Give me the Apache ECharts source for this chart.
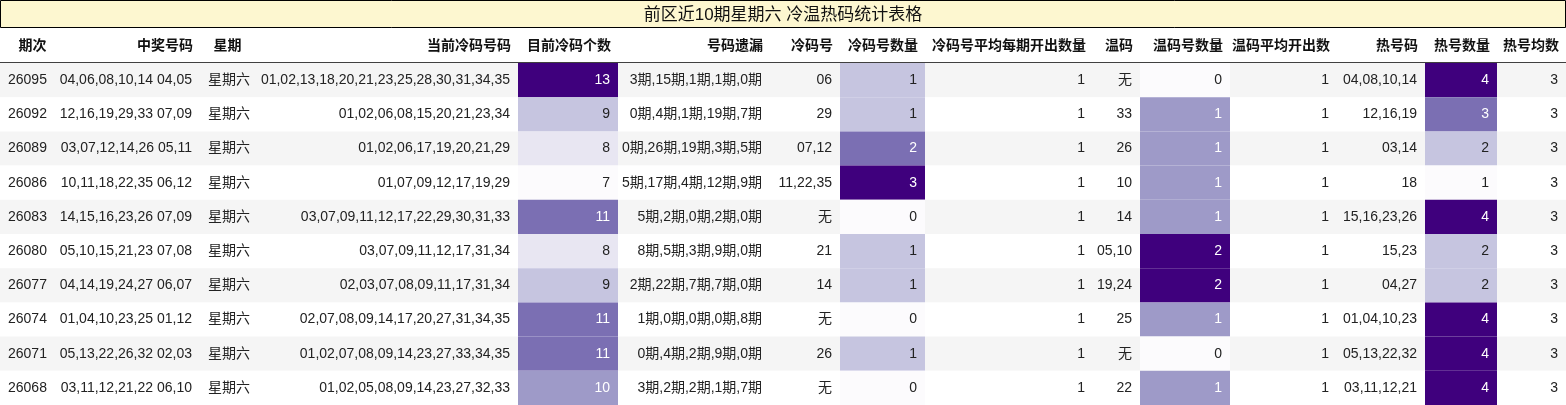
<!DOCTYPE html>
<html>
<head>
<meta charset="utf-8">
<script src="https://cdn.jsdelivr.net/npm/echarts@6/dist/echarts.min.js"></script>
<style>html,body{margin:0;padding:0;background:#fff}#main{width:1566px;height:405px}</style>
</head>
<body>
<div id="main"></div>
<script>
var title = '前区近10期星期六 冷温热码统计表格';
var headers = ['期次', '中奖号码', '星期', '当前冷码号码', '目前冷码个数', '号码遗漏', '冷码号', '冷码号数量',
    '冷码号平均每期开出数量', '温码', '温码号数量', '温码平均开出数', '热号码', '热号数量', '热号均数'];
var periods = ['26095', '26092', '26089', '26086', '26083', '26080', '26077', '26074', '26071', '26068'];
var winning = ['04,06,08,10,14 04,05', '12,16,19,29,33 07,09', '03,07,12,14,26 05,11', '10,11,18,22,35 06,12',
    '14,15,16,23,26 07,09', '05,10,15,21,23 07,08', '04,14,19,24,27 06,07', '01,04,10,23,25 01,12',
    '05,13,22,26,32 02,03', '03,11,12,21,22 06,10'];
var weekday = ['星期六', '星期六', '星期六', '星期六', '星期六', '星期六', '星期六', '星期六', '星期六', '星期六'];
var coldNums = ['01,02,13,18,20,21,23,25,28,30,31,34,35', '01,02,06,08,15,20,21,23,34', '01,02,06,17,19,20,21,29',
    '01,07,09,12,17,19,29', '03,07,09,11,12,17,22,29,30,31,33', '03,07,09,11,12,17,31,34',
    '02,03,07,08,09,11,17,31,34', '02,07,08,09,14,17,20,27,31,34,35', '01,02,07,08,09,14,23,27,33,34,35',
    '01,02,05,08,09,14,23,27,32,33'];
var coldCount = [13, 9, 8, 7, 11, 8, 9, 11, 11, 10];
var missing = ['3期,15期,1期,1期,0期', '0期,4期,1期,19期,7期', '0期,26期,19期,3期,5期', '5期,17期,4期,12期,9期',
    '5期,2期,0期,2期,0期', '8期,5期,3期,9期,0期', '2期,22期,7期,7期,0期', '1期,0期,0期,0期,8期',
    '0期,4期,2期,9期,0期', '3期,2期,2期,1期,7期'];
var coldHit = ['06', '29', '07,12', '11,22,35', '无', '21', '14', '无', '26', '无'];
var coldHitCount = [1, 1, 2, 3, 0, 1, 1, 0, 1, 0];
var coldAvg = [1, 1, 1, 1, 1, 1, 1, 1, 1, 1];
var warm = ['无', '33', '26', '10', '14', '05,10', '19,24', '25', '无', '22'];
var warmCount = [0, 1, 1, 1, 1, 2, 2, 1, 0, 1];
var warmAvg = [1, 1, 1, 1, 1, 1, 1, 1, 1, 1];
var hot = ['04,08,10,14', '12,16,19', '03,14', '18', '15,16,23,26', '15,23', '04,27', '01,04,10,23', '05,13,22,32', '03,11,12,21'];
var hotCount = [4, 3, 2, 1, 4, 2, 2, 4, 4, 4];
var hotAvg = [3, 3, 3, 3, 3, 3, 3, 3, 3, 3];

var columns = [periods, winning, weekday, coldNums, coldCount, missing, coldHit, coldHitCount,
    coldAvg, warm, warmCount, warmAvg, hot, hotCount, hotAvg];
var heatCols = {4: true, 7: true, 10: true, 13: true};

// layout
var edges = [0, 55, 200, 255, 518, 618, 770, 840, 925, 1093, 1140, 1230, 1337, 1425, 1497, 1566];
var aligns = ['left', 'right', 'left', 'right', 'right', 'right', 'right', 'right', 'right', 'right', 'right', 'right', 'right', 'right', 'right'];
var titleH = 27, headTop = 30, headH = 33, rowH = 34.2;
var purples = ['#fcfbfd', '#efedf5', '#dadaeb', '#bcbddc', '#9e9ac8', '#807dba', '#6a51a3', '#54278f', '#3f007d'];

function heatColor(col, v) {
    var arr = columns[col];
    var mn = Math.min.apply(null, arr), mx = Math.max.apply(null, arr);
    var t = mx === mn ? 0 : (v - mn) / (mx - mn);
    var map = [[0, '#fcfbfd'], [0.17, '#e8e6f2'], [0.33, '#c6c5e0'], [0.5, '#9e9ac8'], [0.67, '#7b6fb3'], [1, '#3f007d']];
    var best = map[0];
    map.forEach(function (m) { if (Math.abs(m[0] - t) < Math.abs(best[0] - t)) best = m; });
    return {c: best[1], dark: t >= 0.45};
}

var cells = [];
for (var r = 0; r < periods.length; r++) {
    for (var c = 0; c < columns.length; c++) cells.push([c, r, columns[c][r]]);
}

var font = '"Liberation Sans","Noto Sans CJK SC",sans-serif';
var myChart = echarts.init(document.getElementById('main'));
var option = {
    animation: false,
    grid: {left: 0, right: 0, top: 0, bottom: 0},
    xAxis: {type: 'value', min: 0, max: 1566, show: false},
    yAxis: {type: 'value', min: 0, max: 405, inverse: true, show: false},
    series: [
        {
            type: 'custom',
            renderItem: function (params, api) {
                var c = api.value(0), r = api.value(1);
                var val = columns[c][r];
                var p0 = api.coord([edges[c], headTop + headH + r * rowH]);
                var p1 = api.coord([edges[c + 1], headTop + headH + (r + 1) * rowH]);
                var fill = r % 2 === 0 ? '#f5f5f5' : '#ffffff';
                var txtColor = '#222';
                if (heatCols[c]) {
                    var h = heatColor(c, val);
                    fill = h.c;
                    if (h.dark) txtColor = '#fff';
                }
                var tx = aligns[c] === 'left' ? p0[0] + 8 : p1[0] - 8;
                if (c === 2) tx = p0[0] + 8;
                return {
                    type: 'group',
                    children: [
                        {type: 'rect', shape: {x: p0[0], y: p0[1], width: p1[0] - p0[0], height: p1[1] - p0[1]}, style: {fill: fill}},
                        {type: 'text', style: {x: tx, y: (p0[1] + p1[1]) / 2, text: String(val), fill: txtColor,
                            font: '14px ' + font, textAlign: aligns[c], textVerticalAlign: 'middle'}}
                    ]
                };
            },
            data: cells
        },
        {
            type: 'custom',
            renderItem: function (params, api) {
                var c = params.dataIndex;
                var p0 = api.coord([edges[c], headTop]);
                var p1 = api.coord([edges[c + 1], headTop + headH]);
                var align = c === 0 || c === 2 ? 'center' : 'right';
                var tx = align === 'center' ? (p0[0] + p1[0]) / 2 + (c === 0 ? 5 : 0) : p1[0] - 7;
                return {type: 'text', style: {x: tx, y: (p0[1] + p1[1]) / 2, text: headers[c], fill: '#111',
                    font: 'bold 14px ' + font, textAlign: align, textVerticalAlign: 'middle'}};
            },
            data: headers.map(function (h, i) { return [i, 0]; })
        }
    ],
    graphic: [
        {type: 'rect', shape: {x: 0.5, y: 0.5, width: 1565, height: titleH}, style: {fill: '#fdf7d0', stroke: '#000', lineWidth: 1}},
        {type: 'text', style: {x: 783, y: 15, text: title, font: '17px ' + font, fill: '#111', textAlign: 'center', textVerticalAlign: 'middle'}},
        {type: 'line', shape: {x1: 0, y1: headTop + headH, x2: 1566, y2: headTop + headH}, style: {stroke: '#000', lineWidth: 1.5}}
    ]
};
myChart.setOption(option);
</script>
</body>
</html>
